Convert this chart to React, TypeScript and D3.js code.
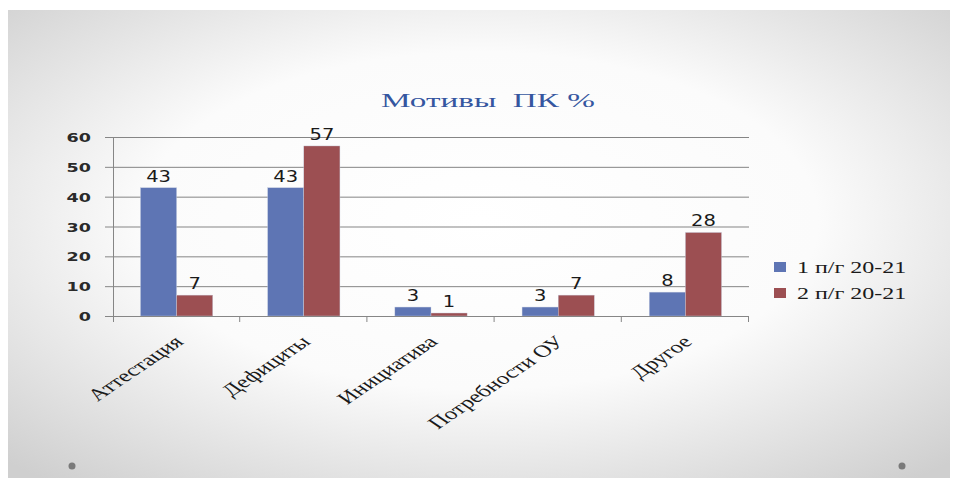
import * as d3 from "d3";
import React from "react";

const categories = ["Аттестация", "Дефициты", "Инициатива", "Потребности ОУ", "Другое"];
const seriesNames = ["1 п/г 20-21", "2 п/г 20-21"];
const series1 = [43, 43, 3, 3, 8];
const series2 = [7, 57, 1, 7, 28];
const yTicks = [0, 10, 20, 30, 40, 50, 60];

const colors = ["#5E75B4", "#9C4F52"];

export default function App() {
  const ref = React.useRef<HTMLDivElement>(null);

  React.useEffect(() => {
    if (!ref.current) return;
    document.body.style.margin = "0";

    const W = 955;
    const H = 481;
    const margin = { top: 137, right: 206, bottom: 165, left: 113 };
    const width = W - margin.left - margin.right;
    const height = H - margin.top - margin.bottom;

    const svg = d3
      .select(ref.current)
      .append("svg")
      .attr("width", W)
      .attr("height", H)
      .style("display", "block");

    // фон слайда
    const defs = svg.append("defs");
    const grad = defs
      .append("radialGradient")
      .attr("id", "bg")
      .attr("cx", "0.5")
      .attr("cy", "0.45")
      .attr("r", "0.72");
    grad.append("stop").attr("offset", "0").attr("stop-color", "#ffffff");
    grad.append("stop").attr("offset", "0.5").attr("stop-color", "#fbfbfb");
    grad.append("stop").attr("offset", "1").attr("stop-color", "#cfcfcf");

    svg.append("rect").attr("width", W).attr("height", H).attr("fill", "#ffffff");
    svg
      .append("rect")
      .attr("x", 8)
      .attr("y", 10)
      .attr("width", 942)
      .attr("height", 468)
      .attr("fill", "url(#bg)");

    svg.append("circle").attr("cx", 72).attr("cy", 466).attr("r", 3.5).attr("fill", "#7a7a7a");
    svg.append("circle").attr("cx", 902).attr("cy", 466).attr("r", 3.5).attr("fill", "#7a7a7a");

    // растянутый текст
    const label = (
      parent: d3.Selection<SVGGElement | SVGSVGElement, unknown, null, undefined>,
      x: number,
      y: number,
      text: string,
      o: { size: number; family: string; sx: number; anchor?: string; fill?: string; weight?: string; rotate?: number }
    ) =>
      parent
        .append("text")
        .attr("transform", `translate(${x},${y}) scale(${o.sx},1)${o.rotate ? ` rotate(${o.rotate})` : ""}`)
        .attr("text-anchor", o.anchor || "start")
        .attr("font-family", o.family)
        .attr("font-size", o.size)
        .attr("font-weight", o.weight || "normal")
        .attr("fill", o.fill || "#1a1a1a")
        .text(text);

    // заголовок
    label(svg, 488, 107, "Мотивы  ПК %", {
      size: 19,
      family: "'Liberation Serif', serif",
      sx: 1.75,
      anchor: "middle",
      fill: "#3556A0",
    }).attr("xml:space", "preserve");

    const g = svg.append("g").attr("transform", `translate(${margin.left},${margin.top})`);

    const x = d3.scaleBand().domain(categories).range([0, width]);
    const xInner = d3
      .scaleBand()
      .domain(seriesNames)
      .range([0, x.bandwidth()])
      .paddingInner(0)
      .paddingOuter(0.76);
    const y = d3.scaleLinear().domain([0, 60]).range([height, 0]);

    // сетка
    g.selectAll(".grid")
      .data(yTicks.filter((t) => t > 0))
      .enter()
      .append("line")
      .attr("x1", 0)
      .attr("x2", width)
      .attr("y1", (d) => y(d) + 0.5)
      .attr("y2", (d) => y(d) + 0.5)
      .attr("stroke", "#858585")
      .attr("stroke-width", 1);

    // столбцы
    const rows = categories.map((c, i) => ({ c, v: [series1[i], series2[i]] }));
    rows.forEach((r) => {
      r.v.forEach((v, j) => {
        g.append("rect")
          .attr("x", (x(r.c) || 0) + (xInner(seriesNames[j]) || 0))
          .attr("y", y(v))
          .attr("width", xInner.bandwidth())
          .attr("height", height - y(v))
          .attr("fill", colors[j])
          .attr("stroke", "#c9cfe0")
          .attr("stroke-width", 0.4);
        label(g, (x(r.c) || 0) + (xInner(seriesNames[j]) || 0) + xInner.bandwidth() / 2, y(v) - 6, String(v), {
          size: 15,
          family: "'DejaVu Sans', sans-serif",
          sx: 1.3,
          anchor: "middle",
        });
      });
    });

    // оси
    g.append("line")
      .attr("x1", 0.5)
      .attr("x2", 0.5)
      .attr("y1", 0)
      .attr("y2", height + 6)
      .attr("stroke", "#868686");
    g.append("line")
      .attr("x1", 0)
      .attr("x2", width)
      .attr("y1", height + 0.5)
      .attr("y2", height + 0.5)
      .attr("stroke", "#868686");

    yTicks.forEach((t) => {
      g.append("line")
        .attr("x1", -8)
        .attr("x2", 0)
        .attr("y1", y(t) + 0.5)
        .attr("y2", y(t) + 0.5)
        .attr("stroke", "#868686");
      label(g, -22, y(t) + 5, String(t), {
        size: 13,
        family: "'DejaVu Sans', sans-serif",
        sx: 1.35,
        anchor: "end",
        weight: "bold",
        fill: "#2a2a2a",
      });
    });

    categories.forEach((c) => {
      const x0 = (x(c) || 0) + x.bandwidth();
      g.append("line")
        .attr("x1", x0 - 0.5)
        .attr("x2", x0 - 0.5)
        .attr("y1", height)
        .attr("y2", height + 6)
        .attr("stroke", "#868686");
      label(g, (x(c) || 0) + x.bandwidth() / 2 + 8, height + 27, c, {
        size: 17,
        family: "'Liberation Serif', serif",
        sx: 1.48,
        anchor: "end",
        rotate: -45,
      });
    });

    // легенда
    seriesNames.forEach((s, i) => {
      const ly = 267 + i * 26;
      svg
        .append("rect")
        .attr("x", 774)
        .attr("y", ly - 5)
        .attr("width", 12)
        .attr("height", 10)
        .attr("fill", colors[i]);
      label(svg, 797, ly + 6, s, {
        size: 16,
        family: "'Liberation Serif', serif",
        sx: 1.5,
      });
    });

    return () => {
      d3.select(ref.current).selectAll("*").remove();
    };
  }, []);

  return <div ref={ref} />;
}
